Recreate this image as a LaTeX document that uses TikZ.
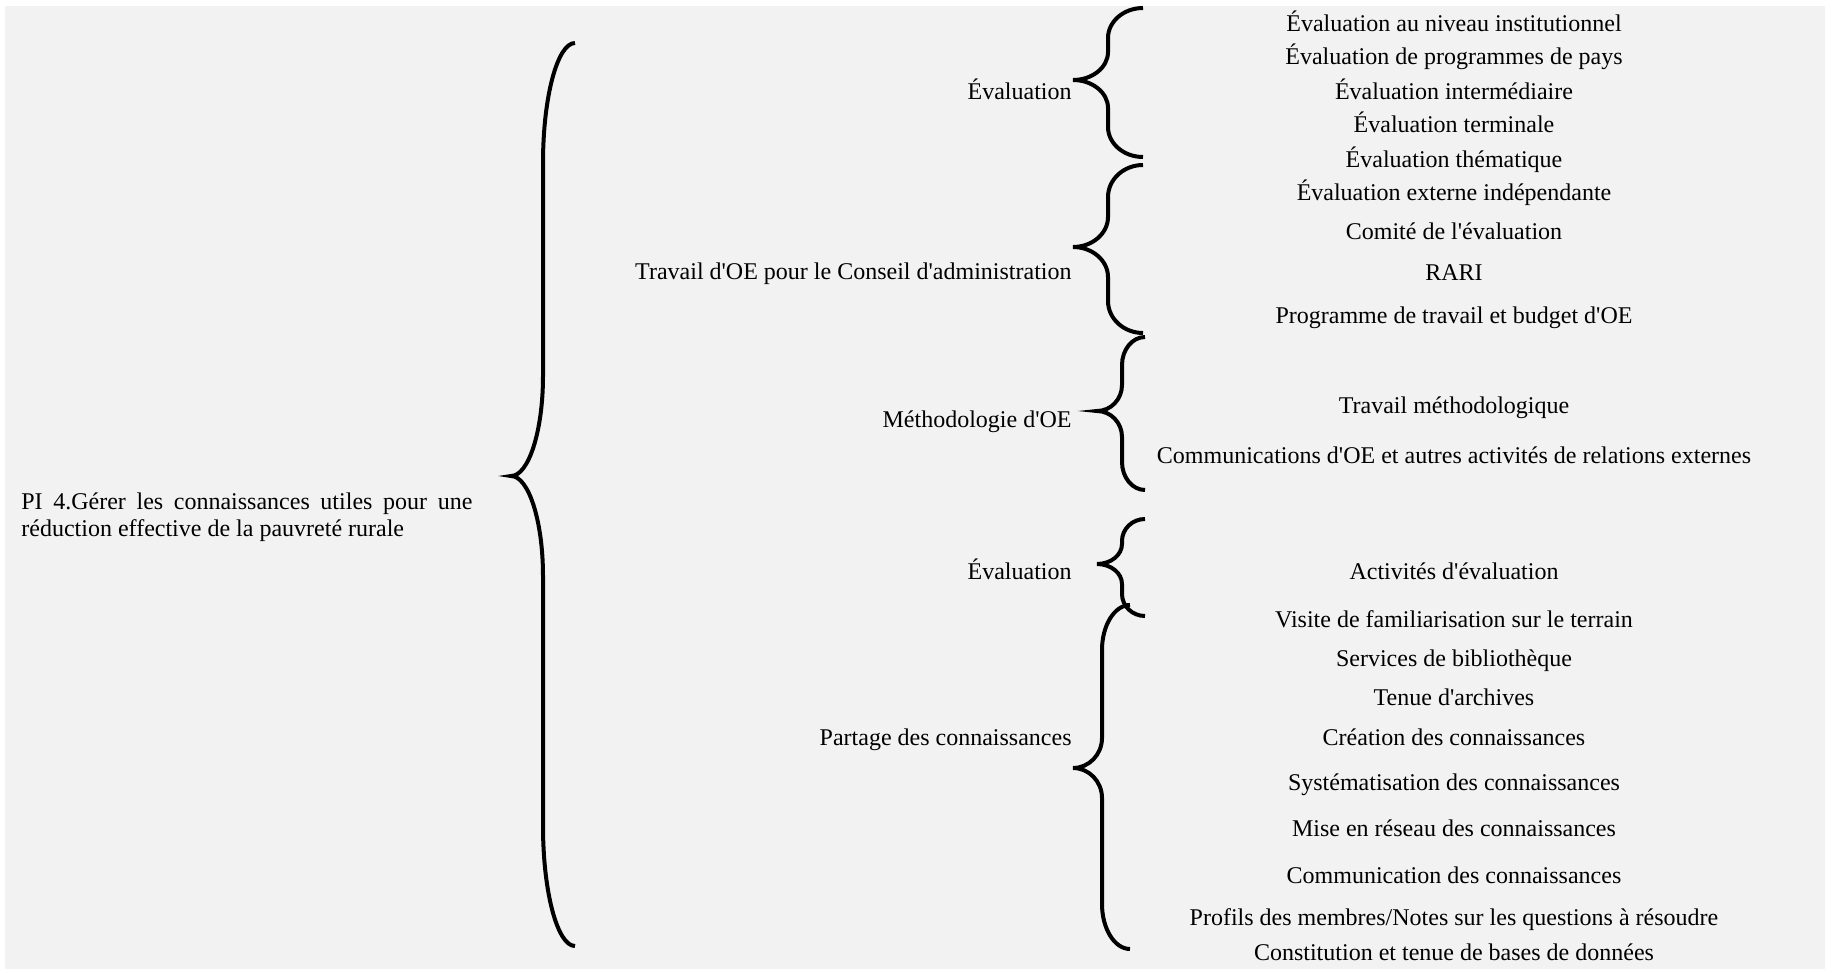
\documentclass[tikz,border=0pt]{standalone}
\usepackage{fontspec}
\setmainfont{Liberation Serif}[Ligatures=TeXOff]
\usepackage{tikz}
\definecolor{panel}{HTML}{F2F2F2}

\begin{document}
\begin{tikzpicture}[x=0.5pt,y=-0.5pt]

\tikzset{item/.style = {anchor=base, inner sep=0pt, font=\fontsize{12}{14}\selectfont}}
\tikzset{head/.style = {anchor=base east, inner sep=0pt, font=\fontsize{12}{14}\selectfont}}
\tikzset{curly/.style = {line width=2pt}}

\useasboundingbox (0,0) rectangle (1825,969);
\fill[panel] (5,6) rectangle (1825,969);

\node[anchor=base west, inner sep=0pt, text width=225.5pt, align=justify,
      font=\fontsize{12}{13.8}\selectfont] (pi) at (21,509)
      {PI 4.Gérer les connaissances utiles pour une\linebreak réduction effective de la pauvreté rurale};

\node[head] (h1) at (1072,99) {Évaluation};
\node[head] (h2) at (1072,279) {Travail d'OE pour le Conseil d'administration};
\node[head] (h3) at (1072,427) {Méthodologie d'OE};
\node[head] (h4) at (1072,579) {Évaluation};
\node[head] (h5) at (1072,745) {Partage des connaissances};

\node[item] (i1) at (1454,32) {Évaluation au niveau institutionnel};
\node[item] (i2) at (1454,64) {Évaluation de programmes de pays};
\node[item] (i3) at (1454,99) {Évaluation intermédiaire};
\node[item] (i4) at (1454,132) {Évaluation terminale};
\node[item] (i5) at (1454,167) {Évaluation thématique};
\node[item] (i6) at (1454,200) {Évaluation externe indépendante};
\node[item] (i7) at (1454,239) {Comité de l'évaluation};
\node[item] (i8) at (1454,280) {RARI};
\node[item] (i9) at (1454,323) {Programme de travail et budget d'OE};
\node[item] (i10) at (1454,413) {Travail méthodologique};
\node[item] (i11) at (1454,463) {Communications d'OE et autres activités de relations externes};
\node[item] (i12) at (1454,579) {Activités d'évaluation};
\node[item] (i13) at (1454,627) {Visite de familiarisation sur le terrain};
\node[item] (i14) at (1454,666) {Services de bibliothèque};
\node[item] (i15) at (1454,705) {Tenue d'archives};
\node[item] (i16) at (1454,745) {Création des connaissances};
\node[item] (i17) at (1454,790) {Systématisation des connaissances};
\node[item] (i18) at (1454,836) {Mise en réseau des connaissances};
\node[item] (i19) at (1454,883) {Communication des connaissances};
\node[item] (i20) at (1454,925) {Profils des membres/Notes sur les questions à résoudre};
\node[item] (i21) at (1454,960) {Constitution et tenue de bases de données};

\draw[curly] (575,43) .. controls +(-17.6,0) and +(0,-66) .. (543,163) -- (543,376)
  .. controls +(0,55) and +(17.6,0) .. (511,476) .. controls +(17.6,0) and +(0,-55) .. (543,576)
  -- (543,826) .. controls +(0,66) and +(-17.6,0) .. (575,946);

\draw[curly] (1143,8) .. controls +(-19.3,0) and +(0,-16.5) .. (1108,38) -- (1108,52)
  .. controls +(0,15.4) and +(19.3,0) .. (1073,80) .. controls +(19.3,0) and +(0,-15.4) .. (1108,108)
  -- (1108,127) .. controls +(0,16.5) and +(-19.3,0) .. (1143,157);
\draw[curly] (1143,165) .. controls +(-19.3,0) and +(0,-17.6) .. (1108,197) -- (1108,217)
  .. controls +(0,16.5) and +(19.3,0) .. (1073,247) .. controls +(19.3,0) and +(0,-16.5) .. (1108,277)
  -- (1108,301) .. controls +(0,17.6) and +(-19.3,0) .. (1143,333);
\draw[curly] (1145,337) .. controls +(-12.7,0) and +(0,-15.4) .. (1122,365) -- (1122,385)
  .. controls +(0,14.3) and +(13.8,0) .. (1097,411) .. controls +(13.8,0) and +(0,-14.3) .. (1122,437)
  -- (1122,462) .. controls +(0,15.4) and +(-12.7,0) .. (1145,490);
\draw[curly] (1145,519) .. controls +(-12.7,0) and +(0,-12.1) .. (1122,541) -- (1122,544)
  .. controls +(0,11) and +(13.8,0) .. (1097,564) .. controls +(13.8,0) and +(0,-11) .. (1122,584)
  -- (1122,594) .. controls +(0,12.1) and +(-12.7,0) .. (1145,616);
\draw[curly] (1130,605) .. controls +(-15.4,0) and +(0,-24.8) .. (1102,650) -- (1102,738)
  .. controls +(0,16.5) and +(16,0) .. (1073,768) .. controls +(16,0) and +(0,-16.5) .. (1102,798)
  -- (1102,904) .. controls +(0,24.8) and +(-15.4,0) .. (1130,949);

\end{tikzpicture}
\end{document}
